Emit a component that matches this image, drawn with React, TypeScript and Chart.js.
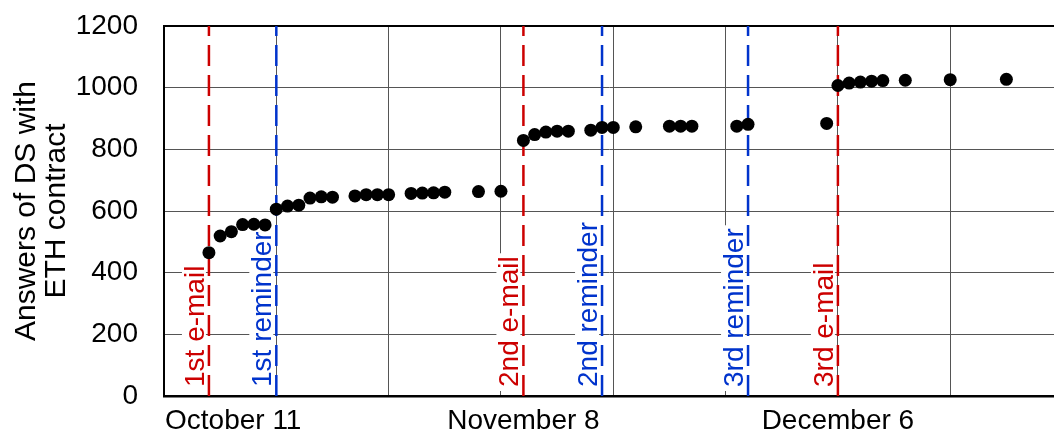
import React, { useEffect, useRef } from 'react';
import { Chart, registerables } from 'chart.js';

Chart.register(...registerables);

// Days counted from October 11
const days = [0, 1, 2, 3, 4, 5, 6, 7, 8, 9, 10, 11, 13, 14, 15, 16, 18, 19, 20, 21, 24, 26, 28, 29, 30, 31, 32, 34, 35, 36, 38, 41, 42, 43, 47, 48, 55, 56, 57, 58, 59, 60, 62, 66, 71];
const answers = [465, 519, 533, 556, 557, 555, 606, 616, 619, 642, 646, 645, 649, 653, 653, 653, 657, 658, 659, 661, 663, 664, 829, 848, 856, 859, 859, 862, 871, 871, 873, 875, 875, 875, 875, 881, 884, 1007, 1015, 1018, 1021, 1023, 1024, 1026, 1027];

const eventDays = [0, 6, 28, 35, 48, 56];
const eventLabels = ['1st e-mail', '1st reminder', '2nd e-mail', '2nd reminder', '3rd reminder', '3rd e-mail'];
const eventIsEmail = [true, false, true, false, false, true];

const gridDays = [6, 16, 26, 36, 46, 56, 66];
const dateTickDays = [0, 28, 56];
const dateTickLabels = ['October 11', 'November 8', 'December 6'];

const yTitle = ['Answers of DS with', 'ETH contract'];

const RED = '#cc0000';
const BLUE = '#0033cc';
const FONT = '"Liberation Sans", Arial, sans-serif';

const eventTextPlugin = {
  id: 'eventText',
  beforeDatasetsDraw(chart: any) {
    const { ctx, chartArea, scales } = chart;
    const xs = scales.x;
    ctx.save();
    ctx.font = `28px ${FONT}`;
    eventDays.forEach((d, i) => {
      const px = xs.getPixelForValue(d);
      const text = eventLabels[i];
      const w = ctx.measureText(text).width;
      const baseX = px - 5;
      const startY = chartArea.bottom - 9;
      ctx.fillStyle = '#ffffff';
      ctx.fillRect(baseX - 22, startY - w - 3, 24, w + 7);
      ctx.save();
      ctx.translate(baseX, startY);
      ctx.rotate(-Math.PI / 2);
      ctx.fillStyle = eventIsEmail[i] ? RED : BLUE;
      ctx.textAlign = 'left';
      ctx.textBaseline = 'alphabetic';
      ctx.fillText(text, 0, 0);
      ctx.restore();
    });
    ctx.restore();
  },
  afterDraw(chart: any) {
    const { ctx, chartArea, scales } = chart;
    const xs = scales.x;
    ctx.save();
    ctx.font = `28px ${FONT}`;
    ctx.fillStyle = '#000';
    ctx.textAlign = 'center';
    ctx.textBaseline = 'alphabetic';
    dateTickDays.forEach((d, i) => {
      const text = dateTickLabels[i];
      const w = ctx.measureText(text).width;
      let px = xs.getPixelForValue(d);
      px = Math.max(px, chartArea.left + w / 2 + 1);
      px = Math.min(px, chart.width - w / 2 - 1);
      ctx.fillText(text, px, chartArea.bottom + 33);
    });
    ctx.restore();
  },
};

export default function App() {
  const canvasRef = useRef<HTMLCanvasElement | null>(null);

  useEffect(() => {
    if (!canvasRef.current) return;
    Chart.defaults.font.family = FONT;
    const eventSets = eventDays.map((d, i) => ({
      label: eventLabels[i],
      data: [{ x: d, y: 0 }, { x: d, y: 1200 }],
      showLine: true,
      borderColor: eventIsEmail[i] ? RED : BLUE,
      borderWidth: 2.5,
      borderDash: [21, 9],
      pointRadius: 0,
      fill: false,
    }));
    const chart = new Chart(canvasRef.current, {
      type: 'scatter',
      data: {
        datasets: [
          {
            label: 'Answers',
            data: days.map((d, i) => ({ x: d, y: answers[i] })),
            pointRadius: 6.5,
            pointBackgroundColor: '#000',
            pointBorderWidth: 0,
            showLine: false,
          },
          ...eventSets,
        ] as any,
      },
      options: {
        animation: false,
        responsive: false,
        devicePixelRatio: 1,
        layout: { autoPadding: false, padding: { top: 26, bottom: 36, left: 0, right: 0 } },
        plugins: { legend: { display: false }, tooltip: { enabled: false } },
        scales: {
          x: {
            type: 'linear',
            min: -4,
            max: 75.24,
            afterBuildTicks: (s: any) => {
              s.ticks = gridDays.map((v) => ({ value: v }));
            },
            afterFit: (s: any) => {
              s.height = 0;
              s.paddingLeft = 0;
              s.paddingRight = 0;
              s.paddingTop = 0;
              s.paddingBottom = 0;
            },
            ticks: { display: false },
            grid: { color: '#555555', lineWidth: 1, drawTicks: false },
            border: { display: true, color: '#000', width: 2.5 },
          },
          y: {
            min: 0,
            max: 1200,
            afterFit: (s: any) => {
              s.width = 164;
              s.paddingTop = 0;
              s.paddingBottom = 0;
              s.paddingLeft = 0;
              s.paddingRight = 0;
            },
            ticks: {
              stepSize: 200,
              color: '#000',
              padding: 26,
              font: { size: 28 },
              callback: (v: any) => String(v),
            },
            grid: {
              color: (c: any) => (c.tick && c.tick.value === 1200 ? '#000' : '#555555'),
              lineWidth: (c: any) => (c.tick && c.tick.value === 1200 ? 2 : 1),
              drawTicks: false,
            },
            border: { color: '#000', width: 2 },
            title: {
              display: true,
              text: yTitle,
              color: '#000',
              font: { size: 30, lineHeight: 1.0 },
              padding: { top: 12, bottom: 0 },
            },
          },
        },
      } as any,
      plugins: [eventTextPlugin],
    });
    return () => chart.destroy();
  }, []);

  return (
    <div style={{ position: 'fixed', left: 0, top: 0, width: 1054, height: 432, overflow: 'hidden', background: '#fff' }}>
      <canvas ref={canvasRef} width={1054} height={432} style={{ display: 'block', width: 1054, height: 432 }} />
    </div>
  );
}
